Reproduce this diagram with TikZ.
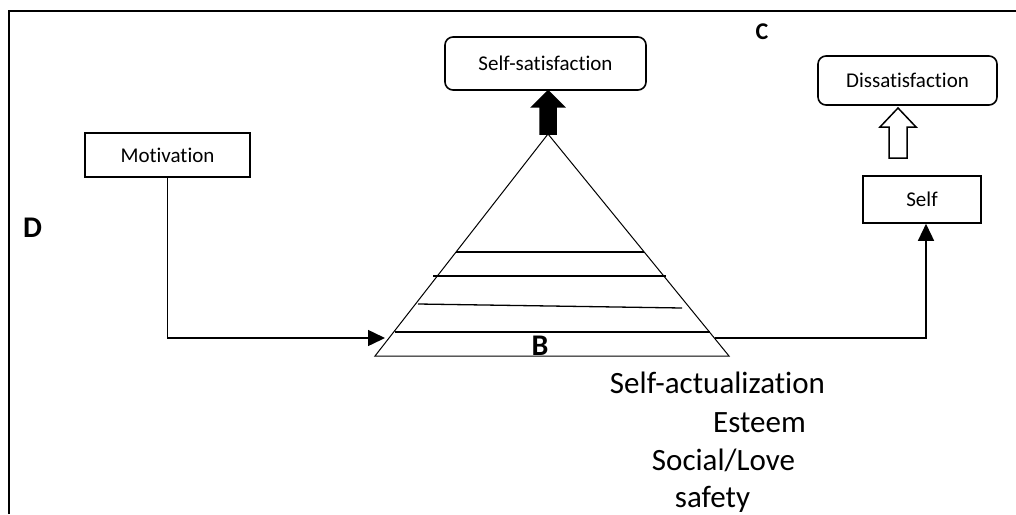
\documentclass[tikz,border=0pt]{standalone}
\usepackage{fontspec}
\setmainfont{Carlito}[Ligatures=NoCommon]
\usetikzlibrary{arrows.meta,calc}
\tikzset{%
  r/.style = {rectangle,draw,line width=1.6pt,inner sep=0pt,
        font=\fontsize{21}{25}\selectfont},
  rr/.style = {r,rounded corners=8pt},
  tri/.style = {line width=1pt},
  rung/.style = {line width=1.3pt},
  onearrow/.style = {-{Triangle[length=17pt,width=16pt]},line width=1.5pt},
  blockup/.style = {line width=1.5pt,line join=miter},
  letter/.style = {font=\bfseries\fontsize{30}{36}\selectfont,anchor=base,inner sep=0pt},
  level/.style = {font=\fontsize{31}{38}\selectfont,anchor=base,inner sep=0pt}
}
\begin{document}
\begin{tikzpicture}[x=1pt,y=-1pt]
  \useasboundingbox (0,0) rectangle (1016,514);
  % frame
  \draw[line width=2pt] (9,514) -- (9,11) -- (1016,11);

  \node[rr,minimum width=201pt,minimum height=53pt] (sat) at (545.5,63.5) {Self-satisfaction};
  \node[rr,minimum width=179pt,minimum height=49pt] (dis) at (907.5,80.5) {Dissatisfaction};
  \node[r,minimum width=118pt,minimum height=47pt] (self) at (922,199.5) {Self};
  \node[r,minimum width=165pt,minimum height=44pt] (mot) at (167.5,155) {Motivation};

  % pyramid
  \coordinate (apex) at (548,134);
  \coordinate (bl) at (375,356);
  \coordinate (br) at (729,356);
  \draw[tri] (apex) -- (bl) -- (br) -- cycle;
  \draw[rung] (456,252) -- (644,252);
  \draw[rung] (433,276) -- (666,276);
  \draw[rung] (418,304) -- (682,308);
  \draw[rung] (395,332) -- (710,332);

  \node[letter] (b) at (540,355) {B};
  \node[letter,font=\bfseries\fontsize{24}{29}\selectfont] (c) at (762,39) {C};
  \node[letter] (d) at (32.5,237) {D};

  \node[level] (sa) at (717.5,393) {Self-actualization};
  \node[level] (es) at (759.5,432) {Esteem};
  \node[level] (sl) at (723.5,470) {Social/Love};
  \node[level] (sf) at (712.5,507) {safety};

  % block arrows
  \draw[blockup,fill=black] ($(apex)+(-8,0)$) -- ($(apex|-sat.south)+(-8,16)$) -- ++(-8,0)
        -- (apex|-sat.south) -- ++(16,16) -- ++(-8,0) -- ($(apex)+(8,0)$) -- cycle;
  \coordinate (hbase) at (898,158);
  \coordinate (htip) at (898,108);
  \draw[blockup,fill=white] ($(hbase)+(-9,0)$) -- ($(htip)+(-9,19)$) -- ++(-9,0)
        -- (htip) -- ++(18,19) -- ++(-9,0) -- ($(hbase)+(9,0)$) -- cycle;

  % connectors
  \coordinate (in) at (385,338);
  \coordinate (out) at (715,338);
  \draw[onearrow] (mot.south) |- (in);
  \draw[onearrow] (out) -| ([xshift=4pt]self.south);
\end{tikzpicture}
\end{document}
